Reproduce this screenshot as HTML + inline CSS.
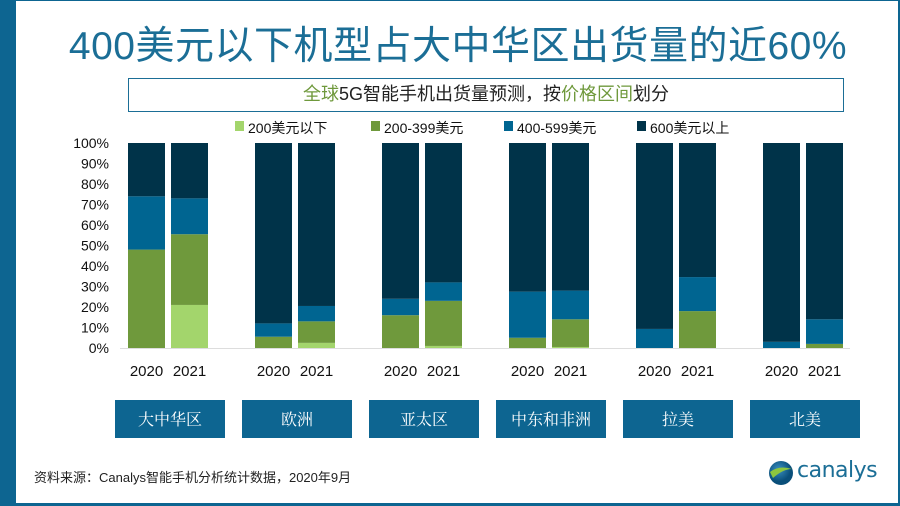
<!DOCTYPE html>
<html><head><meta charset="utf-8">
<style>
*{margin:0;padding:0;box-sizing:border-box}
body{width:900px;height:506px;overflow:hidden;background:#fff;font-family:"Liberation Sans","Noto Sans CJK SC",sans-serif;position:relative}
.abs{position:absolute}
</style></head>
<body>
<div class="abs" style="left:0;top:0;width:16px;height:506px;background:#0d6591"></div>
<div class="abs" style="left:16px;top:0;width:884px;height:506px;border-top:1px solid #0d6591;border-right:2px solid #0d6591;border-bottom:3px solid #0d6591"></div>
<div class="abs" style="left:16px;top:15px;width:884px;text-align:center;font-size:39px;color:#1b6e96;font-family:'Liberation Sans','Noto Sans CJK SC',sans-serif;letter-spacing:0.5px">400美元以下机型占大中华区出货量的近60%</div>
<div class="abs" style="left:128px;top:78px;width:716px;height:34px;border:1.5px solid #1b6e96;text-align:center;font-size:18px;line-height:31px;color:#222"><span style="color:#6f993c">全球</span>5G智能手机出货量预测，按<span style="color:#6f993c">价格区间</span>划分</div>
<svg class="abs" style="left:0;top:0" width="900" height="506">
<g id="legend"></g><g id="axis"></g><g id="bars"></g>
</svg>
<div id="regions"></div>
<div class="abs" style="left:34px;top:467px;font-size:13px;color:#222">资料来源：Canalys智能手机分析统计数据，2020年9月</div>
<div class="abs" style="left:768px;top:459px;width:120px;height:28px">
<svg width="26" height="26" style="position:absolute;left:0;top:1px"><defs><radialGradient id="g" cx="40%" cy="35%"><stop offset="0" stop-color="#3a8fc0"/><stop offset="1" stop-color="#0a4f7a"/></radialGradient></defs><circle cx="13" cy="13" r="12" fill="url(#g)"/><path d="M2 12 Q11 5 24 9 Q15 9 5 18 Z" fill="#8cc63f"/></svg>
<span style="position:absolute;left:29px;top:-1px;font-size:22px;color:#1b6e96;font-family:'DejaVu Sans',sans-serif;letter-spacing:-0.5px">canalys</span></div>
<script>
const regions=["大中华区","欧洲","亚太区","中东和非洲","拉美","北美"];
const years=["2020","2021"];
const seriesNames=["200美元以下","200-399美元","400-599美元","600美元以上"];
const under200=[0,21,0,2.5,0,1,0,0.5,0,0,0,0];
const p200_399=[48,34.5,5.5,10.5,16,22,5,13.5,0,18,0,2];
const p400_599=[26,17.5,6.5,7.5,8,9,22.5,14,9.3,16.6,3,12];
const over600=[26,27,88,79.5,76,68,72.5,72,90.7,65.4,97,86];
const yTicks=["0%","10%","20%","30%","40%","50%","60%","70%","80%","90%","100%"];
const colors=["#a3d56c","#6f993c","#006591","#003349"];
const NS="http://www.w3.org/2000/svg";
const y0=348,y1=143;
const yScale=v=>y0-(v/100)*(y0-y1);
const groupX=i=>128+i*127;
const barX=(g,k)=>groupX(g)+k*43;
const bw=37;
function mk(t,a,p){const e=document.createElementNS(NS,t);for(const k in a)e.setAttribute(k,a[k]);p.appendChild(e);return e;}
const ax=document.getElementById('axis'),bars=document.getElementById('bars'),lg=document.getElementById('legend');
yTicks.forEach((t,i)=>{const e=mk('text',{x:109,y:yScale(i*10)+5,'text-anchor':'end','font-size':14,fill:'#111','font-family':'Liberation Sans, sans-serif'},ax);e.textContent=t;

});
const base=mk('line',{x1:120,x2:850,y1:348.5,y2:348.5,stroke:'#ddd','stroke-width':1},ax);


const series=[under200,p200_399,p400_599,over600];
regions.forEach((r,g)=>{years.forEach((yr,k)=>{const idx=g*2+k;let acc=0;
series.forEach((s,si)=>{const v=s[idx];if(v>0){const r2=mk('rect',{x:barX(g,k),y:yScale(acc+v),width:bw,height:yScale(acc)-yScale(acc+v),fill:colors[si]},bars);

}acc+=v;});
const t=mk('text',{x:barX(g,k)+bw/2,y:376,'text-anchor':'middle','font-size':15,fill:'#111','font-family':'Liberation Sans, sans-serif'},ax);t.textContent=yr;

});
const d=document.createElement('div');d.className='abs';d.textContent=r;


d.style.cssText=`left:${groupX(g)-13}px;top:400px;width:110px;height:38px;background:#0d6591;color:#fff;text-align:center;line-height:38px;font-size:16px;font-family:'Noto Serif CJK SC','Noto Sans CJK SC',serif`;
document.getElementById('regions').appendChild(d);});
const lx=[235,371,504,637];
seriesNames.forEach((n,i)=>{const m=mk('rect',{x:lx[i],y:121,width:9,height:10,fill:colors[i]},lg);


const t=mk('text',{x:lx[i]+13,y:133,'font-size':14,fill:'#111','font-family':'Liberation Sans, Noto Sans CJK SC, sans-serif'},lg);t.textContent=n;

});
</script>
</body></html>
